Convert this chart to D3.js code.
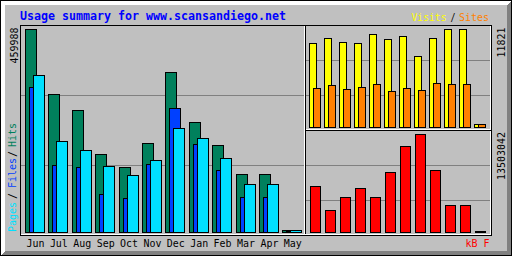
<!DOCTYPE html>
<html>
<head>
<meta charset="utf-8">
<script src="https://cdn.jsdelivr.net/npm/d3@7"></script>
<style>
  body { margin: 0; background: #fff; }
  svg { display: block; }
  text { font-family: "DejaVu Sans Mono", monospace; font-size: 11px; }
</style>
</head>
<body>
<div id="chart"></div>
<script>
const months = ['Jun', 'Jul', 'Aug', 'Sep', 'Oct', 'Nov', 'Dec', 'Jan', 'Feb', 'Mar', 'Apr', 'May']
const hits   = [459988, 312700, 276450, 176060, 146600, 201000, 361870, 248580, 196460, 130900, 130600, 3850]
const files  = [328560, 151140, 146610, 85430, 76360, 153400, 280300, 198730, 139810, 78630, 78500, 2300]
const pages  = [355760, 205520, 185130, 148870, 128480, 162470, 234980, 212320, 167000, 108090, 108000, 3850]
const visits = [10096, 10699, 10217, 10180, 11182, 10578, 10940, 8528, 10699, 11821, 11785, 330]
const sites  = [4668, 5030, 4547, 4789, 5150, 4306, 4668, 4427, 5271, 5150, 5140, 320]
const kbytes = [6296800, 2990000, 4781200, 6021200, 4760000, 8225800, 11808300, 13503042, 8501400, 3678900, 3670000, 100000]

const title = 'Usage summary for www.scansandiego.net'

const grey = '#c0c0c0', dkgrey = '#808080', black = '#000'
const cHits = '#00805c', cFiles = '#0040ff', cPages = '#00e0ff'
const cVisits = '#ffff00', cSites = '#ff8000', cKb = '#ff0000'

const W = 512, H = 256

const svg = d3.select('#chart').append('svg')
  .attr('width', W).attr('height', H)
  .attr('shape-rendering', 'crispEdges')

// background and 3D outline
svg.append('rect').attr('width', W).attr('height', H).attr('fill', grey)
svg.append('polygon').attr('fill', '#fff')
  .attr('points', '1,1 511,1 507,5 5,5 5,251 1,255')
svg.append('polygon').attr('fill', dkgrey)
  .attr('points', '511,1 511,255 1,255 5,251 507,251 507,5')
svg.append('rect').attr('x', 0.5).attr('y', 0.5).attr('width', 511).attr('height', 255)
  .attr('fill', 'none').attr('stroke', black)

// scales
const xMain = d3.scaleBand().domain(months).range([25, 25 + 12 * 23.39])
const xSide = d3.scaleBand().domain(months).range([309, 309 + 12 * 15])
const maxMain = d3.max([...hits, ...files, ...pages])
const yMain = d3.scaleLinear().domain([0, maxMain]).range([232, 29])
const yVis = d3.scaleLinear().domain([0, d3.max(visits)]).range([127, 29])
const yKb = d3.scaleLinear().domain([0, d3.max(kbytes)]).range([232, 134])

// index lines
const hline = (y, x1, x2, color) => svg.append('line')
  .attr('x1', x1).attr('x2', x2).attr('y1', y + 0.5).attr('y2', y + 0.5)
  .attr('stroke', color)
const vline = (x, y1, y2, color) => svg.append('line')
  .attr('x1', x + 0.5).attr('x2', x + 0.5).attr('y1', y1).attr('y2', y2)
  .attr('stroke', color)

;[1, 2].forEach(i => {
  hline(25 + i * 70, 21, 304, dkgrey)
  hline(25 + i * 35, 306, 490, dkgrey)
  hline(130 + i * 35, 306, 490, dkgrey)
})

// inner frame
svg.append('rect').attr('x', 20.5).attr('y', 25.5).attr('width', 471).attr('height', 210)
  .attr('fill', 'none').attr('stroke', black)
hline(234, 21, 491, '#fff')
vline(490, 26, 235, '#fff')
vline(305, 25, 234, black)
vline(304, 26, 234, '#fff')
hline(130, 305, 491, black)
hline(129, 306, 491, '#fff')

function bars(data, x, y, offset, width, color) {
  const base = Math.round(y(0))
  svg.append('g').selectAll('rect')
    .data(data.map((v, i) => ({m: months[i], v})).filter(d => d.v > 0))
    .enter().append('rect')
    .attr('x', d => Math.round(x(d.m)) + offset + 0.5)
    .attr('y', d => Math.round(y(d.v)) + 0.5)
    .attr('width', width)
    .attr('height', d => base - Math.round(y(d.v)))
    .attr('fill', color)
    .attr('stroke', black)
}

bars(hits, xMain, yMain, 0, 11, cHits)
bars(files, xMain, yMain, 4, 11, cFiles)
bars(pages, xMain, yMain, 8, 11, cPages)
bars(visits, xSide, yVis, 0, 7, cVisits)
bars(sites, xSide, yVis, 4, 7, cSites)
bars(kbytes, xSide, yKb, 1, 10, cKb)

// text helpers
function label(str, x, y, color, len, rotate) {
  const t = svg.append('text')
    .attr('fill', color)
    .attr('textLength', len)
    .attr('lengthAdjust', 'spacingAndGlyphs')
    .text(str)
  if (rotate) t.attr('transform', `translate(${x},${y}) rotate(-90)`)
  else t.attr('x', x).attr('y', y)
  return t
}

label(title, 20, 19.5, '#0000ff', title.length * 7)
  .style('font-weight', 'bold').style('font-size', '11.5px')

label('Visits', 411.5, 21, cVisits, 35)
label('/', 450.5, 21, black, 5)
label('Sites', 459, 21, cSites, 30)

// month labels
svg.append('g').selectAll('text')
  .data(months)
  .enter().append('text')
  .attr('x', d => xMain(d) + 1.5)
  .attr('y', 247)
  .attr('fill', black)
  .attr('textLength', 18)
  .attr('lengthAdjust', 'spacingAndGlyphs')
  .text(d => d)

label('kB F', 465.5, 247, cKb, 24)

// y-axis max values
const maxTxt = String(maxMain)
label(maxTxt, 17.5, 63.5, black, maxTxt.length * 6, true)
const visTxt = String(d3.max(visits))
label(visTxt, 504.5, 57.5, black, visTxt.length * 6, true)
const kbTxt = String(d3.max(kbytes))
label(kbTxt, 504.5, 180, black, kbTxt.length * 6, true)

// rotated legend
label('Pages', 16, 232, cPages, 30, true)
label('/', 16, 199, black, 6, true)
label('Files', 16, 188, cFiles, 30, true)
label('/', 16, 157, black, 6, true)
label('Hits', 16, 147, cHits, 24, true)
</script>
</body>
</html>
